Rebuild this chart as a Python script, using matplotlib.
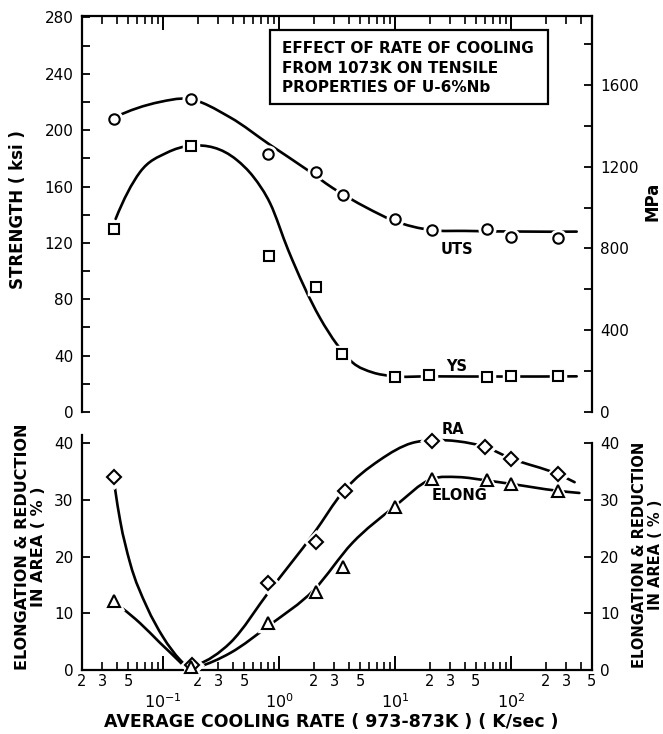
import numpy as np
import matplotlib
matplotlib.use("Agg")
import matplotlib.pyplot as plt
from matplotlib.path import Path
from matplotlib.patches import PathPatch, Rectangle
from matplotlib.ticker import FixedLocator, FuncFormatter, MultipleLocator

plt.rcParams['font.family'] = ['DejaVu Sans']

# ---- measured points (x = K/sec) ----
uts_x   = [0.038, 0.175, 0.80, 2.1, 3.6, 10, 21, 62, 100, 255]
uts_ksi = [208, 222, 183, 170, 154, 137, 129, 130, 124, 123.5]
ys_x    = [0.038, 0.175, 0.82, 2.1, 3.5, 10, 19.5, 62, 100, 255]
ys_ksi  = [130, 189, 111, 89, 41, 25, 26.3, 24.8, 25.6, 25.2]
ra_x    = [0.038, 0.178, 0.80, 2.1, 3.7, 21, 60, 100, 255]
ra_pct  = [34.1, 0.9, 15.4, 22.6, 31.6, 40.4, 39.3, 37.1, 34.5]
el_x    = [0.038, 0.175, 0.80, 2.1, 3.6, 10, 21, 62, 100, 255]
el_pct  = [12.2, 0.6, 8.2, 13.8, 18.1, 28.7, 33.6, 33.4, 32.8, 31.6]

# ---- hand-drawn trend curves (knots) ----
uts_cx = [0.038, 0.094, 0.16, 0.38, 0.84, 1.74, 2.9, 5.7, 9.6, 21, 40, 370]
uts_cy = [209, 220, 222.3, 209, 189.5, 172, 159, 145, 136, 129, 128.5, 128]
ys_cx  = [0.039, 0.063, 0.108, 0.175, 0.43, 0.6, 0.84, 1.2, 2.25, 3.16,
          4.33, 6.46, 9.4, 20, 370]
ys_cy  = [137, 170, 184, 189, 179, 167, 148, 115, 67, 48,
          35, 28, 25.5, 25.3, 25.3]
ra_left_cx  = [0.0385, 0.0426, 0.0519, 0.0726, 0.1, 0.14, 0.155]
ra_left_cy  = [32, 26.4, 18.9, 11.1, 5.8, 1.8, 0.9]
ra_right_cx = [0.196, 0.38, 0.84, 2.0, 3.6, 7.4, 14, 21, 35, 60, 100, 255, 355]
ra_right_cy = [0.9, 4.8, 14.1, 24.1, 31.5, 37, 40, 40.5, 40.3, 39.3, 37.3, 34.5, 33.1]
el_left_cx  = [0.0444, 0.063, 0.094, 0.14, 0.148]
el_left_cy  = [10.9, 8.3, 4.8, 1.4, 0.9]
el_right_cx = [0.2, 0.38, 0.84, 2.0, 4.3, 9.8, 21, 35, 62, 100, 250, 390]
el_right_cy = [0.5, 3.0, 8.0, 14.1, 22.4, 28.7, 33.7, 34.0, 33.4, 32.8, 31.6, 31.2]

KSI_TO_MPA = 6.895


def knot_slopes(u, y):
    # three-point (parabolic) derivative at each knot
    h = np.diff(u)
    d = np.diff(y) / h
    n = len(u)
    m = np.zeros(n)
    for i in range(1, n - 1):
        m[i] = (h[i] * d[i - 1] + h[i - 1] * d[i]) / (h[i - 1] + h[i])
    if n == 2:
        m[0] = m[-1] = d[0]
    else:
        m[0] = ((2 * h[0] + h[1]) * d[0] - h[0] * d[1]) / (h[0] + h[1])
        m[-1] = ((2 * h[-1] + h[-2]) * d[-1] - h[-1] * d[-2]) / (h[-1] + h[-2])
    return m


def smooth_path(xs, ys):
    # cubic Hermite through the knots, as Bezier segments in log-x space
    u = np.log10(xs)
    y = np.asarray(ys, float)
    m = knot_slopes(u, y)
    verts = [(u[0], y[0])]
    codes = [Path.MOVETO]
    for i in range(len(u) - 1):
        h = u[i + 1] - u[i]
        verts += [(u[i] + h / 3, y[i] + m[i] * h / 3),
                  (u[i + 1] - h / 3, y[i + 1] - m[i + 1] * h / 3),
                  (u[i + 1], y[i + 1])]
        codes += [Path.CURVE4] * 3
    verts = np.array(verts)
    verts[:, 0] = 10 ** verts[:, 0]
    return Path(verts, codes)


def draw_curve(ax, xs, ys):
    ax.add_patch(PathPatch(smooth_path(xs, ys), fc='none', ec='black',
                           lw=1.9, zorder=2, capstyle='round'))


def draw_marks(ax, xs, ys, marker, size):
    ax.plot(xs, ys, ls='none', marker=marker, ms=size + 3, mfc='white',
            mec='white', mew=2.5, zorder=3, clip_on=False)
    ax.plot(xs, ys, ls='none', marker=marker, ms=size, mfc='white',
            mec='black', mew=1.5, zorder=4, clip_on=False)


def minor_fmt(v, pos):
    d = int(round(v / 10 ** np.floor(np.log10(v) + 1e-9)))
    return str(d) if d in (2, 3, 5) else ''


decades = [0.01, 0.1, 1, 10, 100]
minor_ticks = [k * d for d in decades for k in range(2, 10) if 0.019 < k * d < 501]

fig = plt.figure(figsize=(6.63, 7.34), dpi=100)
ax1 = fig.add_axes([0.1237, 0.4387, 0.769, 0.5395])
ax2 = fig.add_axes([0.1237, 0.0872, 0.769, 0.3208])

for ax in (ax1, ax2):
    ax.set_xscale('log')
    ax.set_xlim(0.02, 500)
    ax.xaxis.set_major_locator(FixedLocator([0.1, 1, 10, 100]))
    ax.xaxis.set_minor_locator(FixedLocator(minor_ticks))
    for s in ax.spines.values():
        s.set_linewidth(1.6)

# ---- top panel: strength ----
ax1.set_ylim(0, 281)
draw_curve(ax1, uts_cx, uts_cy)
draw_curve(ax1, ys_cx, ys_cy)
draw_marks(ax1, uts_x, uts_ksi, 'o', 7.5)
draw_marks(ax1, ys_x, ys_ksi, 's', 7.5)
ax1.spines['bottom'].set_visible(False)
ax1.spines['right'].set_visible(False)
ax1.xaxis.tick_top()
ax1.tick_params(axis='x', which='major', direction='in', length=10, width=1.4, labeltop=False)
ax1.tick_params(axis='x', which='minor', direction='in', length=6, width=1.2, labeltop=False)
ax1.yaxis.set_major_locator(MultipleLocator(40))
ax1.yaxis.set_minor_locator(MultipleLocator(20))
ax1.tick_params(axis='y', which='major', direction='in', length=6, width=1.3, labelsize=11, pad=6)
ax1.tick_params(axis='y', which='minor', direction='in', length=6, width=1.3)

ax1r = ax1.twinx()
ax1r.set_ylim(0, 281 * KSI_TO_MPA)
for k in ('left', 'top', 'bottom'):
    ax1r.spines[k].set_visible(False)
ax1r.spines['right'].set_linewidth(1.6)
ax1r.yaxis.set_major_locator(MultipleLocator(400))
ax1r.yaxis.set_minor_locator(MultipleLocator(200))
ax1r.tick_params(axis='y', which='both', direction='in', length=6, width=1.3, labelsize=11, pad=6)

ax1.add_patch(Rectangle((0.369, 0.778), 0.545, 0.187, transform=ax1.transAxes,
                        fc='white', ec='black', lw=1.6, zorder=5))
box_lines = ["EFFECT OF RATE OF COOLING", "FROM 1073K ON TENSILE", "PROPERTIES OF U-6%Nb"]
for i, line in enumerate(box_lines):
    ax1.text(0.392, 0.917 - i * 0.049, line, transform=ax1.transAxes, fontsize=11,
             fontweight='bold', va='center', ha='left', zorder=6)

ax1.text(34, 115, "UTS", fontsize=10.5, fontweight='bold', ha='center', va='center')
ax1.text(34, 32, "YS", fontsize=10.5, fontweight='bold', ha='center', va='center')

# ---- bottom panel: ductility ----
ax2.set_ylim(0, 41.5)
draw_curve(ax2, ra_left_cx, ra_left_cy)
draw_curve(ax2, ra_right_cx, ra_right_cy)
draw_curve(ax2, el_left_cx, el_left_cy)
draw_curve(ax2, el_right_cx, el_right_cy)
draw_marks(ax2, ra_x, ra_pct, 'D', 7.5)
draw_marks(ax2, el_x, el_pct, '^', 8.5)
ax2.spines['top'].set_visible(False)
ax2.spines['right'].set_visible(False)
ax2.tick_params(axis='x', which='major', direction='in', length=10, width=1.4,
                labelsize=11.5, pad=16)
ax2.tick_params(axis='x', which='minor', direction='in', length=6, width=1.2,
                labelsize=10.5, pad=3)
ax2.xaxis.set_minor_formatter(FuncFormatter(minor_fmt))
ax2.yaxis.set_major_locator(FixedLocator([0, 10, 20, 30, 40]))
ax2.tick_params(axis='y', direction='in', length=6, width=1.3, labelsize=11, pad=6)

ax2r = ax2.twinx()
ax2r.set_ylim(0, 41.5)
for k in ('left', 'top', 'bottom'):
    ax2r.spines[k].set_visible(False)
ax2r.spines['right'].set_linewidth(1.6)
ax2r.spines['right'].set_bounds(0, 40)
ax2r.yaxis.set_major_locator(FixedLocator([0, 10, 20, 30, 40]))
ax2r.tick_params(axis='y', direction='in', length=6, width=1.3, labelsize=11, pad=6)

ax2.text(31.5, 42.3, "RA", fontsize=10.5, fontweight='bold', ha='center', va='center')
ax2.text(36, 30.7, "ELONG", fontsize=10.5, fontweight='bold', ha='center', va='center')

# ---- axis titles ----
fig.text(0.027, 0.714, "STRENGTH ( ksi )", rotation=90, fontsize=12,
         fontweight='bold', ha='center', va='center')
fig.text(0.984, 0.725, "MPa", rotation=90, fontsize=12,
         fontweight='bold', ha='center', va='center')
fig.text(0.046, 0.255, "ELONGATION & REDUCTION\nIN AREA ( % )", rotation=90,
         fontsize=11.5, fontweight='bold', ha='center', va='center',
         multialignment='center', linespacing=1.1)
fig.text(0.977, 0.244, "ELONGATION & REDUCTION\nIN AREA ( % )", rotation=90,
         fontsize=10.5, fontweight='bold', ha='center', va='center',
         multialignment='center', linespacing=1.05)
fig.text(0.5, 0.016, "AVERAGE COOLING RATE ( 973-873K ) ( K/sec )", fontsize=12.5,
         fontweight='bold', ha='center', va='center')

fig.savefig("out.png", dpi=100)
